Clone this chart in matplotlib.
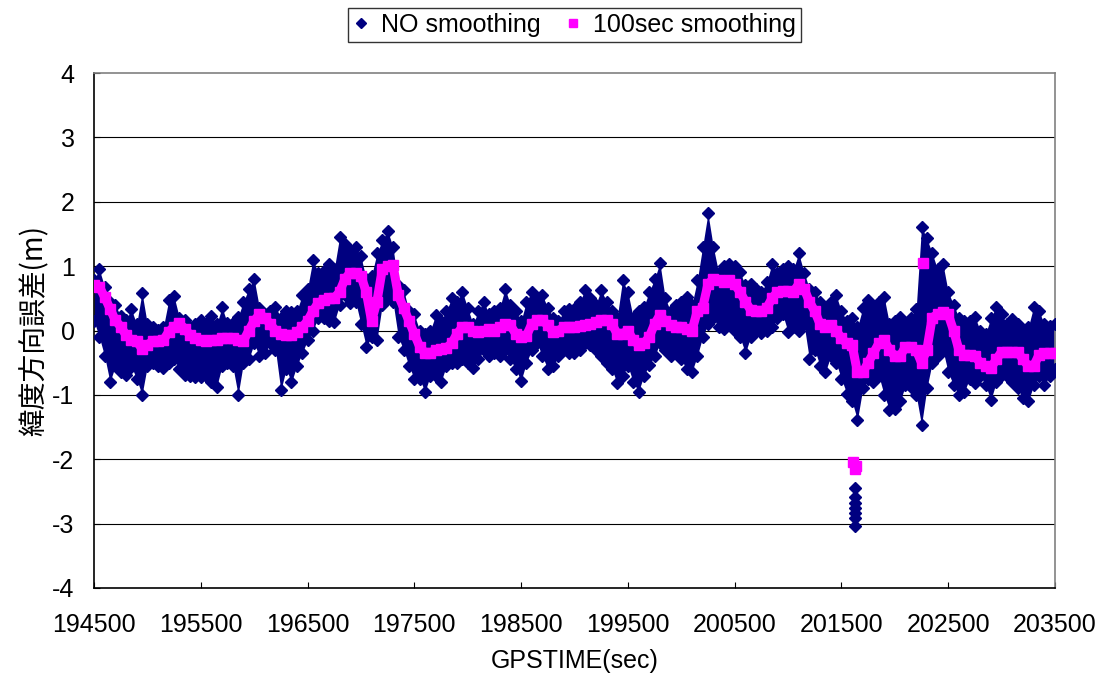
import matplotlib
matplotlib.use('Agg')

import matplotlib.pyplot as plt
from matplotlib.lines import Line2D
import numpy as np

plt.rcParams['font.family'] = ['Liberation Sans', 'DejaVu Sans']
plt.rcParams['axes.unicode_minus'] = False

# GPS time grid: one sample every 50 s from 194500 to 203500
T_START = 194500
T_STEP = 50

# unsmoothed latitude error: upper / lower envelope of the 1 Hz points (m)
raw_high = [
    0.78, 0.95, 0.68, 0.45, 0.40, 0.22, 0.16, 0.33, 0.10, 0.59,
    0.10, 0.06, 0.01, 0.05, 0.47, 0.53, 0.20, 0.16, 0.06, 0.10,
    0.16, 0.10, 0.22, 0.10, 0.36, 0.11, 0.12, 0.21, 0.45, 0.65,
    0.80, 0.35, 0.25, 0.30, 0.37, 0.20, 0.30, 0.28, 0.30, 0.55,
    0.65, 1.10, 0.90, 0.92, 1.04, 0.95, 1.45, 1.35, 1.25, 1.30,
    1.15, 0.80, 0.85, 1.20, 1.40, 1.55, 1.30, 0.70, 0.63, 0.30,
    0.25, 0.00, -0.05, 0.00, 0.24, 0.15, 0.30, 0.50, 0.45, 0.60,
    0.35, 0.10, 0.30, 0.45, 0.25, 0.30, 0.35, 0.65, 0.40, 0.30,
    0.15, 0.45, 0.60, 0.50, 0.55, 0.35, 0.20, 0.15, 0.30, 0.34,
    0.34, 0.45, 0.63, 0.50, 0.40, 0.63, 0.45, 0.30, 0.20, 0.78,
    0.60, 0.20, 0.30, 0.37, 0.60, 0.80, 1.05, 0.50, 0.30, 0.40,
    0.45, 0.52, 0.40, 0.78, 1.30, 1.82, 1.30, 0.90, 1.00, 1.04,
    1.00, 0.91, 0.70, 0.73, 0.65, 0.60, 0.75, 1.04, 0.90, 0.95,
    1.00, 0.95, 1.20, 0.90, 0.65, 0.60, 0.45, 0.35, 0.45, 0.55,
    0.30, 0.15, 0.19, 0.05, 0.35, 0.47, 0.35, 0.45, 0.52, 0.10,
    0.15, 0.21, 0.10, 0.20, 0.34, 1.61, 1.43, 1.20, 0.95, 1.04,
    0.60, 0.40, 0.20, 0.15, 0.15, 0.21, 0.00, -0.05, 0.20, 0.37,
    0.25, 0.10, 0.18, 0.10, 0.00, 0.05, 0.37, 0.30, 0.10, 0.07,
    0.10,
]
raw_low = [
    0.15, -0.10, -0.40, -0.80, -0.55, -0.65, -0.69, -0.56, -0.75, -1.00,
    -0.55, -0.50, -0.55, -0.59, -0.50, -0.45, -0.60, -0.69, -0.70, -0.72,
    -0.72, -0.70, -0.80, -0.87, -0.55, -0.50, -0.55, -1.00, -0.50, -0.45,
    -0.20, -0.40, -0.35, -0.20, -0.30, -0.93, -0.60, -0.80, -0.55, -0.35,
    -0.15, 0.00, 0.20, 0.20, 0.15, 0.13, 0.40, 0.55, 0.42, 0.45,
    0.10, -0.25, -0.10, -0.15, 0.40, 0.50, 0.45, -0.10, -0.30, -0.55,
    -0.75, -0.75, -0.95, -0.70, -0.70, -0.80, -0.55, -0.50, -0.50, -0.45,
    -0.50, -0.59, -0.45, -0.30, -0.40, -0.35, -0.40, -0.30, -0.45, -0.60,
    -0.78, -0.50, -0.30, -0.20, -0.40, -0.60, -0.55, -0.40, -0.30, -0.35,
    -0.35, -0.30, -0.20, -0.22, -0.30, -0.40, -0.50, -0.60, -0.82, -0.70,
    -0.55, -0.80, -0.95, -0.70, -0.53, -0.40, -0.20, -0.30, -0.40, -0.35,
    -0.45, -0.60, -0.64, -0.40, -0.10, 0.10, 0.20, 0.05, 0.03, 0.10,
    0.00, -0.10, -0.35, -0.10, 0.00, -0.04, 0.00, 0.05, 0.20, 0.25,
    -0.02, 0.05, 0.00, 0.10, -0.45, -0.30, -0.55, -0.64, -0.40, -0.50,
    -0.75, -0.98, -1.10, -1.39, -0.90, -0.75, -0.80, -0.70, -1.00, -1.23,
    -1.22, -1.10, -0.85, -0.87, -1.00, -1.47, -0.90, -0.50, -0.40, -0.30,
    -0.65, -0.85, -1.00, -0.95, -0.75, -0.82, -0.70, -0.85, -1.08, -0.80,
    -0.69, -0.70, -0.80, -0.90, -1.05, -1.10, -0.85, -0.70, -0.85, -0.70,
    -0.60,
]
# isolated unsmoothed points around 201625 s
raw_spike_time = [201625, 201625, 201625, 201625, 201625, 201625, 201625]
raw_spike_val = [-2.45, -2.58, -2.68, -2.76, -2.83, -2.92, -3.03]

# 100 s moving-average latitude error (m)
smooth_val = [
    0.70, 0.68, 0.52, 0.34, 0.16, 0.06, -0.07, -0.15, -0.17, -0.28,
    -0.22, -0.17, -0.17, -0.15, -0.02, 0.06, 0.11, 0.03, -0.07, -0.12,
    -0.15, -0.16, -0.15, -0.14, -0.12, -0.12, -0.12, -0.14, -0.16, 0.00,
    0.15, 0.25, 0.20, 0.10, 0.00, -0.05, -0.07, -0.07, -0.03, 0.05,
    0.15, 0.30, 0.43, 0.47, 0.50, 0.50, 0.60, 0.80, 0.90, 0.90,
    0.85, 0.60, 0.15, 0.45, 0.95, 1.00, 1.02, 0.55, 0.35, 0.15,
    -0.05, -0.25, -0.35, -0.35, -0.30, -0.28, -0.27, -0.20, -0.05, 0.05,
    0.05, 0.00, -0.02, 0.00, 0.02, 0.00, 0.05, 0.10, 0.08, -0.05,
    -0.10, -0.08, 0.10, 0.16, 0.16, 0.08, -0.02, 0.00, 0.05, 0.05,
    0.05, 0.07, 0.08, 0.10, 0.14, 0.16, 0.16, 0.10, -0.05, -0.05,
    0.00, -0.15, -0.22, -0.20, -0.10, 0.10, 0.24, 0.15, 0.08, 0.06,
    0.05, 0.02, 0.00, 0.30, 0.35, 0.72, 0.80, 0.78, 0.75, 0.78,
    0.72, 0.60, 0.45, 0.32, 0.30, 0.30, 0.35, 0.50, 0.60, 0.62,
    0.62, 0.60, 0.72, 0.65, 0.45, 0.30, 0.10, 0.05, 0.08, 0.00,
    -0.12, -0.20, -0.22, -0.65, -0.65, -0.50, -0.35, -0.20, -0.15, -0.30,
    -0.40, -0.40, -0.25, -0.25, -0.30, -0.50, -0.30, 0.20, 0.25, 0.28,
    0.25, 0.00, -0.30, -0.38, -0.38, -0.40, -0.50, -0.55, -0.58, -0.45,
    -0.33, -0.33, -0.33, -0.33, -0.45, -0.55, -0.55, -0.38, -0.35, -0.35,
    -0.35,
]
smooth_extra_time = [201610, 201625, 201640, 202265]
smooth_extra_val = [-2.05, -2.15, -2.10, 1.05]

x_ticks = list(range(194500, 203501, 1000))
y_ticks = [-4, -3, -2, -1, 0, 1, 2, 3, 4]

NAVY = '#000080'
MAGENTA = '#FF00FF'

t = T_START + T_STEP * np.arange(len(raw_high))

fig = plt.figure(figsize=(11.04, 6.8), dpi=100)
ax = fig.add_axes([0.0851, 0.1353, 0.8705, 0.7573])

# raw points: filled band plus diamond markers on its jagged edges
ax.fill_between(t, raw_low, raw_high, color=NAVY, linewidth=0, zorder=2)
for edge in (raw_high, raw_low):
    ax.plot(t, edge, linestyle='none', marker='D', ms=6, color=NAVY,
            mec=NAVY, zorder=3)
ax.plot(raw_spike_time, raw_spike_val, linestyle='none', marker='D', ms=6,
        color=NAVY, zorder=3)

# smoothed series
ax.plot(t, smooth_val, color=MAGENTA, lw=6.5, marker='s', ms=7,
        mec=MAGENTA, solid_capstyle='butt', zorder=4)
ax.plot(smooth_extra_time, smooth_extra_val, linestyle='none', marker='s',
        ms=7, color=MAGENTA, mec=MAGENTA, zorder=4)

ax.set_xlim(194500, 203500)
ax.set_ylim(-4, 4)
ax.set_xticks(x_ticks)
ax.set_yticks(y_ticks)
ax.tick_params(axis='both', direction='in', length=4, width=0.8,
               labelsize=18, colors='black')
ax.tick_params(axis='x', pad=18)
ax.tick_params(axis='y', pad=14)

for y in range(-3, 4):
    ax.axhline(y, color='black', lw=0.8, zorder=1)

ax.spines['left'].set_color('black')
ax.spines['bottom'].set_color('black')
ax.spines['top'].set_color('#808080')
ax.spines['right'].set_color('#808080')
for s in ax.spines.values():
    s.set_linewidth(1.2)

ax.set_xlabel('GPSTIME(sec)', fontsize=18, labelpad=9)
ax.set_ylabel('緯度方向誤差(m)', fontsize=20, labelpad=2,
              family=['Noto Sans CJK JP', 'DejaVu Sans'])

handles = [
    Line2D([], [], linestyle='none', marker='D', ms=5, color=NAVY),
    Line2D([], [], linestyle='none', marker='s', ms=6, color=MAGENTA),
]
leg = fig.legend(handles, ['NO smoothing', '100sec smoothing'],
                 loc='center', bbox_to_anchor=(0.5204, 0.963), ncol=2,
                 fontsize=18, frameon=True, fancybox=False,
                 edgecolor='black', handlelength=0.6, handletextpad=0.5,
                 columnspacing=1.0, borderpad=0.2, borderaxespad=0)
leg.get_frame().set_linewidth(1.0)

fig.savefig('out.png', dpi=100)
